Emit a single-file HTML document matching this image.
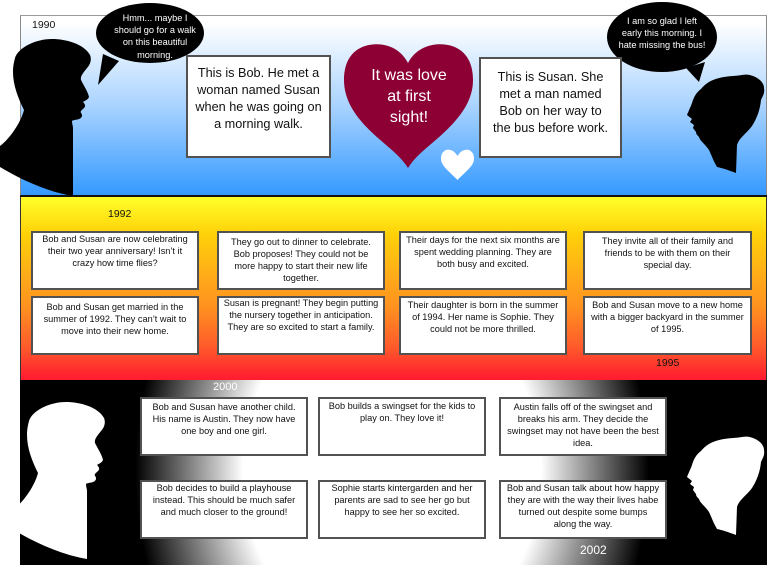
<!DOCTYPE html>
<html><head><meta charset="utf-8"><style>
html,body{margin:0;padding:0;}
body{width:768px;height:567px;position:relative;overflow:hidden;background:#fff;font-family:"Liberation Sans",sans-serif;}
.sec{position:absolute;box-sizing:border-box;}
.box{position:absolute;box-sizing:border-box;border:2px solid #525252;background:#fff;text-align:center;white-space:nowrap;color:#111;}
.m{font-size:9.2px;line-height:12px;}
.big{font-size:12.7px;line-height:17px;}
.t{position:absolute;white-space:nowrap;text-align:center;}
.yr{position:absolute;white-space:nowrap;font-size:10.5px;line-height:12px;color:#111;}
</style></head><body>

<!-- top section -->
<div class="sec" style="left:20px;top:15px;width:747px;height:181px;border-top:1px solid #9a9a9a;border-left:1px solid #8a8a8a;border-right:1.5px solid #8a8a8a;background:linear-gradient(to bottom,#ffffff 0%,#ffffff 4%,#a9d3ff 50%,#3399ff 100%);"></div>
<div class="sec" style="left:20px;top:195px;width:747px;height:2px;background:#111;"></div>
<!-- middle section -->
<div class="sec" style="left:20px;top:197px;width:747px;height:183px;border-left:1px solid #333;border-right:1.5px solid #333;background:linear-gradient(to bottom,#ffff2a 0%,#ffd208 20%,#ffa81a 45%,#ff921f 60%,#ff5a2b 82%,#ff1a30 100%);"></div>
<!-- bottom section -->
<div class="sec" style="left:20px;top:380px;width:747px;height:185px;background:radial-gradient(ellipse 257px 310px at 372px 90px,#ffffff 0%,#ffffff 58%,#000000 100%);"></div>

<svg width="768" height="567" style="position:absolute;left:0;top:0">
<defs><clipPath id="bc"><rect x="20" y="380" width="747" height="185"/></clipPath></defs>
<!-- Bob top -->
<path fill="#000" d="M15,58 C18,48 35,39 52,39 C66,39 84,44 90,55 C92,60 90,65 87,68 C84,72 80,76 81,80 C84,86 88,92 89,97 C88,100 84,101 83,102 C85,104 86,106 84,108 C82,110 80,111 81,113 C83,115 82,118 79,119 C76,120 73,120 72,121 C72,124 73,126 73,128 L73,196 C55,193 30,185 0,167 L0,146 C8,140 20,125 24,110 C18,98 13,85 13,72 C13,66 14,62 15,58 Z"/>
<!-- Susan top -->
<path fill="#000" d="M742,75 C752,73 764,80 764,88 C765,94 762,97 761,100 C760,110 757,118 752,126 C746,134 739,138 737,145 L736,173 C728,170 722,168 717,167 C713,160 711,154 709,150 C705,144 700,141 699,137 C697,135 696,134 696,132 L693,128 L694,125 L690,122 L692,119 L687,115 C689,110 691,106 692,103 C694,96 697,92 701,89 C706,83 712,79 724,77 C730,76 736,76 742,75 Z"/>
<g clip-path="url(#bc)">
<path fill="#fff" transform="translate(14,363)" d="M15,58 C18,48 35,39 52,39 C66,39 84,44 90,55 C92,60 90,65 87,68 C84,72 80,76 81,80 C84,86 88,92 89,97 C88,100 84,101 83,102 C85,104 86,106 84,108 C82,110 80,111 81,113 C83,115 82,118 79,119 C76,120 73,120 72,121 C72,124 73,126 73,128 L73,196 C55,193 30,185 0,167 L0,146 C8,140 20,125 24,110 C18,98 13,85 13,72 C13,66 14,62 15,58 Z"/>
<path fill="#fff" transform="translate(0,362)" d="M742,75 C752,73 764,80 764,88 C765,94 762,97 761,100 C760,110 757,118 752,126 C746,134 739,138 737,145 L736,173 C728,170 722,168 717,167 C713,160 711,154 709,150 C705,144 700,141 699,137 C697,135 696,134 696,132 L693,128 L694,125 L690,122 L692,119 L687,115 C689,110 691,106 692,103 C694,96 697,92 701,89 C706,83 712,79 724,77 C730,76 736,76 742,75 Z"/>
</g>
<!-- bubbles -->
<ellipse cx="150" cy="33" rx="54" ry="30" fill="#000"/>
<polygon points="103,54 98,85 119,61" fill="#000"/>
<ellipse cx="662" cy="37" rx="55" ry="35" fill="#000"/>
<polygon points="686,68 699,82 705,62" fill="#000"/>
<!-- hearts -->
<path fill="#8c0033" d="M408,63 C398,44 378,42 365,46 C350,51 344,64 344,80 C344,104 360,122 378,138 C392,150 402,158 408,168 C414,158 424,150 438,138 C456,122 473,104 473,80 C473,64 467,51 452,46 C439,42 418,44 408,63 Z"/>
<path fill="#fff" d="M457.5,156 C454,150 449,149 446,150 C442,152 441,155 441,159 C441,166 450,172 457.5,180 C465,172 474,166 474,159 C474,155 473,152 469,150 C466,149 461,150 457.5,156 Z"/>
</svg>

<!-- bubble text -->
<div class="t" style="left:95px;top:12px;width:120px;font-size:9.2px;line-height:12.2px;color:#fff;">Hmm... maybe I<br>should go for a walk<br>on this beautiful<br>morning.</div>
<div class="t" style="left:602px;top:16px;width:120px;font-size:9.2px;line-height:11.8px;color:#fff;">I am so glad I left<br>early this morning. I<br>hate missing the bus!</div>

<!-- heart text -->
<div class="t" style="left:344px;top:64.5px;width:130px;font-size:16px;line-height:21px;color:#fff;">It was love<br>at first<br>sight!</div>

<!-- years -->
<div class="yr" style="left:32px;top:19px;">1990</div>
<div class="yr" style="left:108px;top:208px;">1992</div>
<div class="yr" style="left:656px;top:357px;">1995</div>
<div class="yr" style="left:213px;top:381px;font-size:11px;color:#fff;">2000</div>
<div class="yr" style="left:580px;top:543px;font-size:12px;line-height:14px;color:#fff;">2002</div>

<!-- top boxes -->
<div class="box big" style="left:186px;top:55px;width:145px;height:103px;padding-top:7.5px;">This is Bob. He met a<br>woman named Susan<br>when he was going on<br>a morning walk.</div>
<div class="box big" style="left:479px;top:57px;width:143px;height:101px;padding-top:9.5px;">This is Susan. She<br>met a man named<br>Bob on her way to<br>the bus before work.</div>

<!-- middle boxes row 1 -->
<div class="box m" style="left:31px;top:231px;width:168px;height:59px;padding-top:0px;">Bob and Susan are now celebrating<br>their two year anniversary! Isn’t it<br>crazy how time flies?</div>
<div class="box m" style="left:217px;top:231px;width:168px;height:59px;padding-top:3px;">They go out to dinner to celebrate.<br>Bob proposes! They could not be<br>more happy to start their new life<br>together.</div>
<div class="box m" style="left:399px;top:231px;width:168px;height:59px;padding-top:1px;">Their days for the next six months are<br>spent wedding planning. They are<br>both busy and excited.</div>
<div class="box m" style="left:583px;top:231px;width:169px;height:59px;padding-top:2px;">They invite all of their family and<br>friends to be with them on their<br>special day.</div>

<!-- middle boxes row 2 -->
<div class="box m" style="left:31px;top:296px;width:168px;height:59px;padding-top:3px;">Bob and Susan get married in the<br>summer of 1992. They can’t wait to<br>move into their new home.</div>
<div class="box m" style="left:217px;top:296px;width:168px;height:59px;padding-top:0px;"><div style="position:relative;top:-1px;">Susan is pregnant! They begin putting<br>the nursery together in anticipation.<br>They are so excited to start a family.</div></div>
<div class="box m" style="left:399px;top:296px;width:168px;height:59px;padding-top:1px;">Their daughter is born in the summer<br>of 1994. Her name is Sophie. They<br>could not be more thrilled.</div>
<div class="box m" style="left:583px;top:296px;width:169px;height:59px;padding-top:1px;">Bob and Susan move to a new home<br>with a bigger backyard in the summer<br>of 1995.</div>

<!-- bottom boxes row 1 -->
<div class="box m" style="left:140px;top:397px;width:168px;height:59px;padding-top:2px;">Bob and Susan have another child.<br>His name is Austin. They now have<br>one boy and one girl.</div>
<div class="box m" style="left:318px;top:397px;width:168px;height:59px;padding-top:1px;">Bob builds a swingset for the kids to<br>play on. They love it!</div>
<div class="box m" style="left:499px;top:397px;width:168px;height:59px;padding-top:2px;">Austin falls off of the swingset and<br>breaks his arm. They decide the<br>swingset may not have been the best<br>idea.</div>

<!-- bottom boxes row 2 -->
<div class="box m" style="left:140px;top:480px;width:168px;height:59px;padding-top:0px;">Bob decides to build a playhouse<br>instead. This should be much safer<br>and much closer to the ground!</div>
<div class="box m" style="left:318px;top:480px;width:168px;height:59px;padding-top:0px;">Sophie starts kintergarden and her<br>parents are sad to see her go but<br>happy to see her so excited.</div>
<div class="box m" style="left:499px;top:480px;width:168px;height:59px;padding-top:0px;">Bob and Susan talk about how happy<br>they are with the way their lives habe<br>turned out despite some bumps<br>along the way.</div>

</body></html>
